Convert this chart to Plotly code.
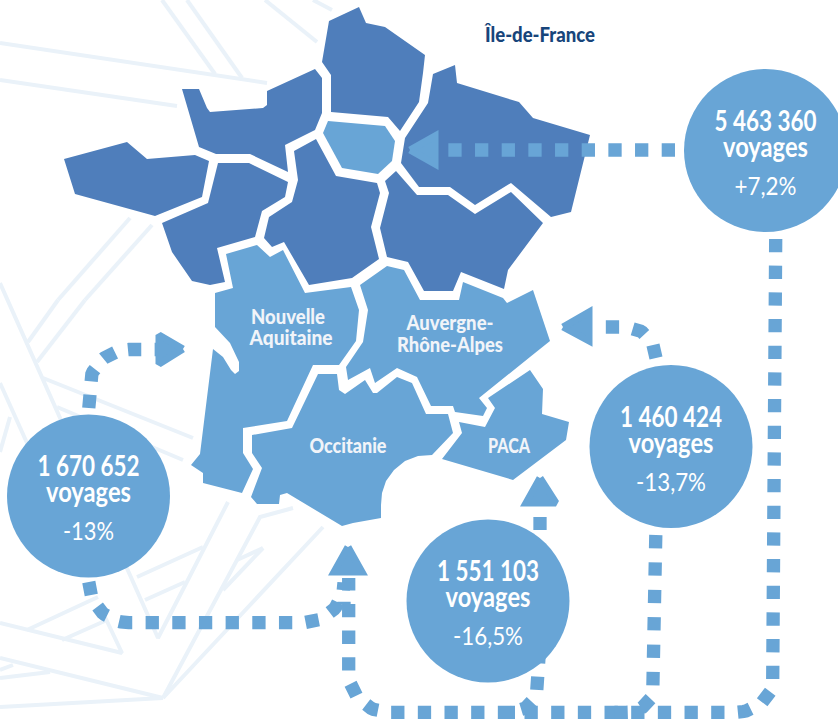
import json
import math
import plotly.graph_objects as go

LIGHT = "#68A5D6"
DARK = "#4F7EBB"
PALE = "#EAF2F9"
NAVY = "#17457B"
LABEL = "#F1F4F9"
FONT = "Lato, sans-serif"

# ---- region outlines
bretagne = [(64,159),(127,142),(147,159),(195,155),(209,161),(202,197),(155,216),(75,194)]
normandie = [(182,89),(199,89),(207,108),(210,112),(263,108),(267,105),(267,91),(315,69),(322,78),(322,113),(315,130),(285,145),(288,172),(250,154),(216,154),(199,147)]
pays_de_la_loire = [(218,163),(249,163),(288,182),(285,197),(262,211),(255,237),(217,248),(225,282),(210,285),(192,281),(172,252),(162,223),(208,203)]
hauts_de_france = [(329,21),(359,7),(366,23),(385,27),(425,55),(423,73),(419,102),(400,131),(388,117),(331,112),(331,75),(322,62)]
ile_de_france = [(328,121),(385,126),(395,141),(392,161),(378,174),(342,168),(323,133)]
centre = [(316,139),(336,176),(377,183),(380,193),(371,227),(379,259),(352,278),(309,285),(284,242),(272,247),(264,238),(269,217),(292,202),(298,180),(294,151)]
grand_est = [(433,74),(455,65),(457,83),(519,102),(533,118),(590,135),(571,212),(551,217),(511,183),(475,205),(450,187),(419,187),(401,163),(405,138),(428,103)]
bourgogne = [(396,171),(417,195),(448,195),(475,214),(511,192),(543,223),(508,270),(504,289),(461,272),(453,291),(424,291),(408,262),(387,257),(380,228),(389,193),(385,181)]
aquitaine = [(226,254),(257,245),(270,257),(283,250),(305,293),(351,287),(359,310),(356,341),(339,365),(313,365),(287,421),(243,428),(243,453),(253,469),(242,493),(203,483),(203,473),(191,465),(200,454),(213,349),(223,357),(231,370),(235,374),(239,371),(239,362),(230,343),(215,327),(215,293),(233,288)]
auvergne = [(360,285),(387,266),(404,270),(420,300),(459,300),(463,282),(503,298),(507,303),(533,290),(550,341),(530,357),(479,398),(487,408),(483,416),(455,412),(453,406),(431,406),(417,377),(397,368),(375,383),(370,368),(348,380),(346,367),(363,342),(368,310)]
occitanie = [(318,374),(337,374),(339,390),(345,394),(365,380),(373,393),(377,393),(397,377),(412,383),(426,414),(448,414),(453,433),(432,455),(418,456),(405,461),(394,470),(386,481),(382,493),(381,505),(381,518),(353,523),(342,526),(287,493),(280,495),(279,504),(257,504),(251,497),(262,468),(252,453),(252,435),(292,428)]
paca = [(530,370),(543,389),(542,414),(569,422),(566,440),(513,480),(442,459),(462,433),(459,422),(485,427),(495,408),(488,398)]
dark_regions = [bretagne, normandie, pays_de_la_loire, hauts_de_france, centre, grand_est, bourgogne]
light_regions = [ile_de_france, aquitaine, auvergne, occitanie, paca]

# ---- pale background lines
background_lines = [
    [(0,43),(267,83)], [(0,80),(177,106)], [(162,0),(215,74)], [(187,0),(242,78)],
    [(265,0),(317,42)], [(313,0),(332,10)], [(58,300),(130,218)], [(85,300),(152,225)],
    [(28,342),(58,300)], [(37,362),(85,300)],
    [(0,283),(158,638),(228,502)], [(43,378),(193,438)], [(57,407),(183,460)],
    [(0,383),(27,443)], [(0,452),(10,417)],
    [(137,577),(203,547)], [(145,600),(185,582)],
    [(27,630),(98,597)], [(62,640),(107,620)], [(0,623),(122,653),(105,617)],
    [(0,658),(163,698)], [(0,707),(163,698)], [(0,678),(50,672)], [(0,670),(13,665)],
    [(163,698),(260,517),(293,508)], [(163,698),(323,527)], [(223,590),(263,548)],
    [(237,560),(263,548)],
]

# ---- dotted connectors: vertices and corner radius
main_route = [(775.7,239),(775.7,712.3),(348.7,712.3),(348.7,578)]
right_route = [(655.8,535),(655.8,712.3),(606,712.3)]
bottom_route = [(539.5,650),(539.5,712.3),(515,712.3)]
left_bottom_route = [(88.8,582),(88.8,622.7),(344,622.7),(344,604)]
left_top_route = [(88.8,408),(88.8,349.5),(158,349.5)]
right_top_route = [(656,358),(656,327),(601,327)]
paca_stub = [(540,530),(540,517)]
idf_route = [(675,150),(448,150)]
routes = [
    (main_route, 40, "13.3px,13.37px"), (right_route, 30, "13.3px,14.1px"),
    (bottom_route, 30, "13.3px,13.4px"), (left_bottom_route, 40, "13.3px,13.37px"),
    (left_top_route, 40, "13.3px,13.37px"), (right_top_route, 31, "13.3px,13.8px"),
    (paca_stub, 0, "solid"), (idf_route, 0, "13.3px,13.37px"),
]

# ---- arrow heads
arrow_idf = [(410,150),(435,136),(435,164)]
arrow_right = [(563,327),(589,312),(589,341)]
arrow_left = [(183,349),(159,335),(159,364)]
arrow_paca = [(540,478),(526,503),(556,503)]
arrow_occitanie = [(348,547),(334,572),(362,572)]
arrows = [arrow_idf, arrow_right, arrow_left, arrow_paca, arrow_occitanie]

# ---- bubbles
bubble_x = [765.5, 671, 488, 88.5]
bubble_y = [150.5, 446.5, 601, 496]
bubble_numbers = ["5 463 360", "1 460 424", "1 551 103", "1 670 652"]
bubble_word = "voyages"
bubble_changes = ["+7,2%", "-13,7%", "-16,5%", "-13%"]

# ---- region labels
labels = ["Nouvelle", "Aquitaine", "Auvergne-", "Rhône-Alpes", "Occitanie", "PACA"]
label_x = [288, 291, 450, 450, 348, 509]
label_y = [319, 340, 325, 347, 448, 448]

# widths the condensed lettering occupies in the reference
text_widths = {
    "5 463 360": 102, "1 460 424": 102, "1 551 103": 102, "1 670 652": 102, "voyages": 85,
    "+7,2%": 62, "-13,7%": 70, "-16,5%": 70, "-13%": 51,
    "Nouvelle": 74, "Aquitaine": 83, "Auvergne-": 87, "Rhône-Alpes": 106,
    "Occitanie": 77, "PACA": 42, "Île-de-France": 110,
}


def rounded(points, r):
    xs, ys = [points[0][0]], [points[0][1]]
    for i in range(1, len(points) - 1):
        (x0, y0), (x1, y1), (x2, y2) = points[i - 1], points[i], points[i + 1]
        l0 = math.hypot(x0 - x1, y0 - y1)
        l2 = math.hypot(x2 - x1, y2 - y1)
        ax, ay = (x0 - x1) / l0, (y0 - y1) / l0
        bx, by = (x2 - x1) / l2, (y2 - y1) / l2
        cx, cy = x1 + (ax + bx) * r, y1 + (ay + by) * r
        for k in range(25):
            t = k / 24 * math.pi / 2
            xs.append(cx - bx * r * math.cos(t) - ax * r * math.sin(t))
            ys.append(cy - by * r * math.cos(t) - ay * r * math.sin(t))
    xs.append(points[-1][0])
    ys.append(points[-1][1])
    return xs, ys


def unzip(points):
    return [p[0] for p in points], [p[1] for p in points]


def polygon(points, color, line_width=0):
    x, y = unzip(points + [points[0]])
    return go.Scatter(x=x, y=y, mode="lines", fill="toself", fillcolor=color,
                      line=dict(color=color, width=line_width), hoverinfo="skip")


fig = go.Figure()
for seg in background_lines:
    x, y = unzip(seg)
    fig.add_trace(go.Scatter(x=x, y=y, mode="lines", line=dict(color=PALE, width=4), hoverinfo="skip"))
for reg in dark_regions:
    fig.add_trace(polygon(reg, DARK))
for reg in light_regions:
    fig.add_trace(polygon(reg, LIGHT))
for pts, r, dash in routes:
    x, y = rounded(pts, r)
    fig.add_trace(go.Scatter(x=x, y=y, mode="lines", line=dict(color=LIGHT, width=13.3, dash=dash), hoverinfo="skip"))
for arr in arrows:
    fig.add_trace(polygon(arr, LIGHT, 7))
fig.add_trace(go.Scatter(x=bubble_x, y=bubble_y, mode="markers",
                         marker=dict(size=163, color=LIGHT, line=dict(width=0)), hoverinfo="skip"))
fig.add_trace(go.Scatter(x=bubble_x, y=[v - 27 for v in bubble_y], mode="text", text=bubble_numbers,
                         textfont=dict(family=FONT, size=28, color="white", weight="bold"), hoverinfo="skip"))
fig.add_trace(go.Scatter(x=bubble_x, y=[v - 1 for v in bubble_y], mode="text", text=[bubble_word] * 4,
                         textfont=dict(family=FONT, size=28, color="white", weight="bold"), hoverinfo="skip"))
fig.add_trace(go.Scatter(x=bubble_x, y=[v + 38 for v in bubble_y], mode="text", text=bubble_changes,
                         textfont=dict(family=FONT, size=25, color="white", weight=400), hoverinfo="skip"))
fig.add_trace(go.Scatter(x=label_x, y=label_y, mode="text", text=labels,
                         textfont=dict(family=FONT, size=20, color=LABEL, weight=900), hoverinfo="skip"))
fig.add_trace(go.Scatter(x=[540], y=[37], mode="text", text=["Île-de-France"],
                         textfont=dict(family=FONT, size=20, color=NAVY, weight=900), hoverinfo="skip"))

fig.update_layout(
    width=838, height=720, margin=dict(l=0, r=0, t=0, b=0), showlegend=False,
    paper_bgcolor="white", plot_bgcolor="white",
    xaxis=dict(range=[0, 838], visible=False, fixedrange=True),
    yaxis=dict(range=[720, 0], visible=False, fixedrange=True),
)
post = (
    "document.body.style.margin='0';"
    "var W=" + json.dumps(text_widths) + ";"
    "document.querySelectorAll('.textpoint text').forEach(function(t){"
    "var w=W[t.textContent];if(w){t.setAttribute('textLength',w);"
    "t.setAttribute('lengthAdjust','spacingAndGlyphs');}});"
)
fig.write_html("out.html", config={"displayModeBar": False}, post_script=post)
